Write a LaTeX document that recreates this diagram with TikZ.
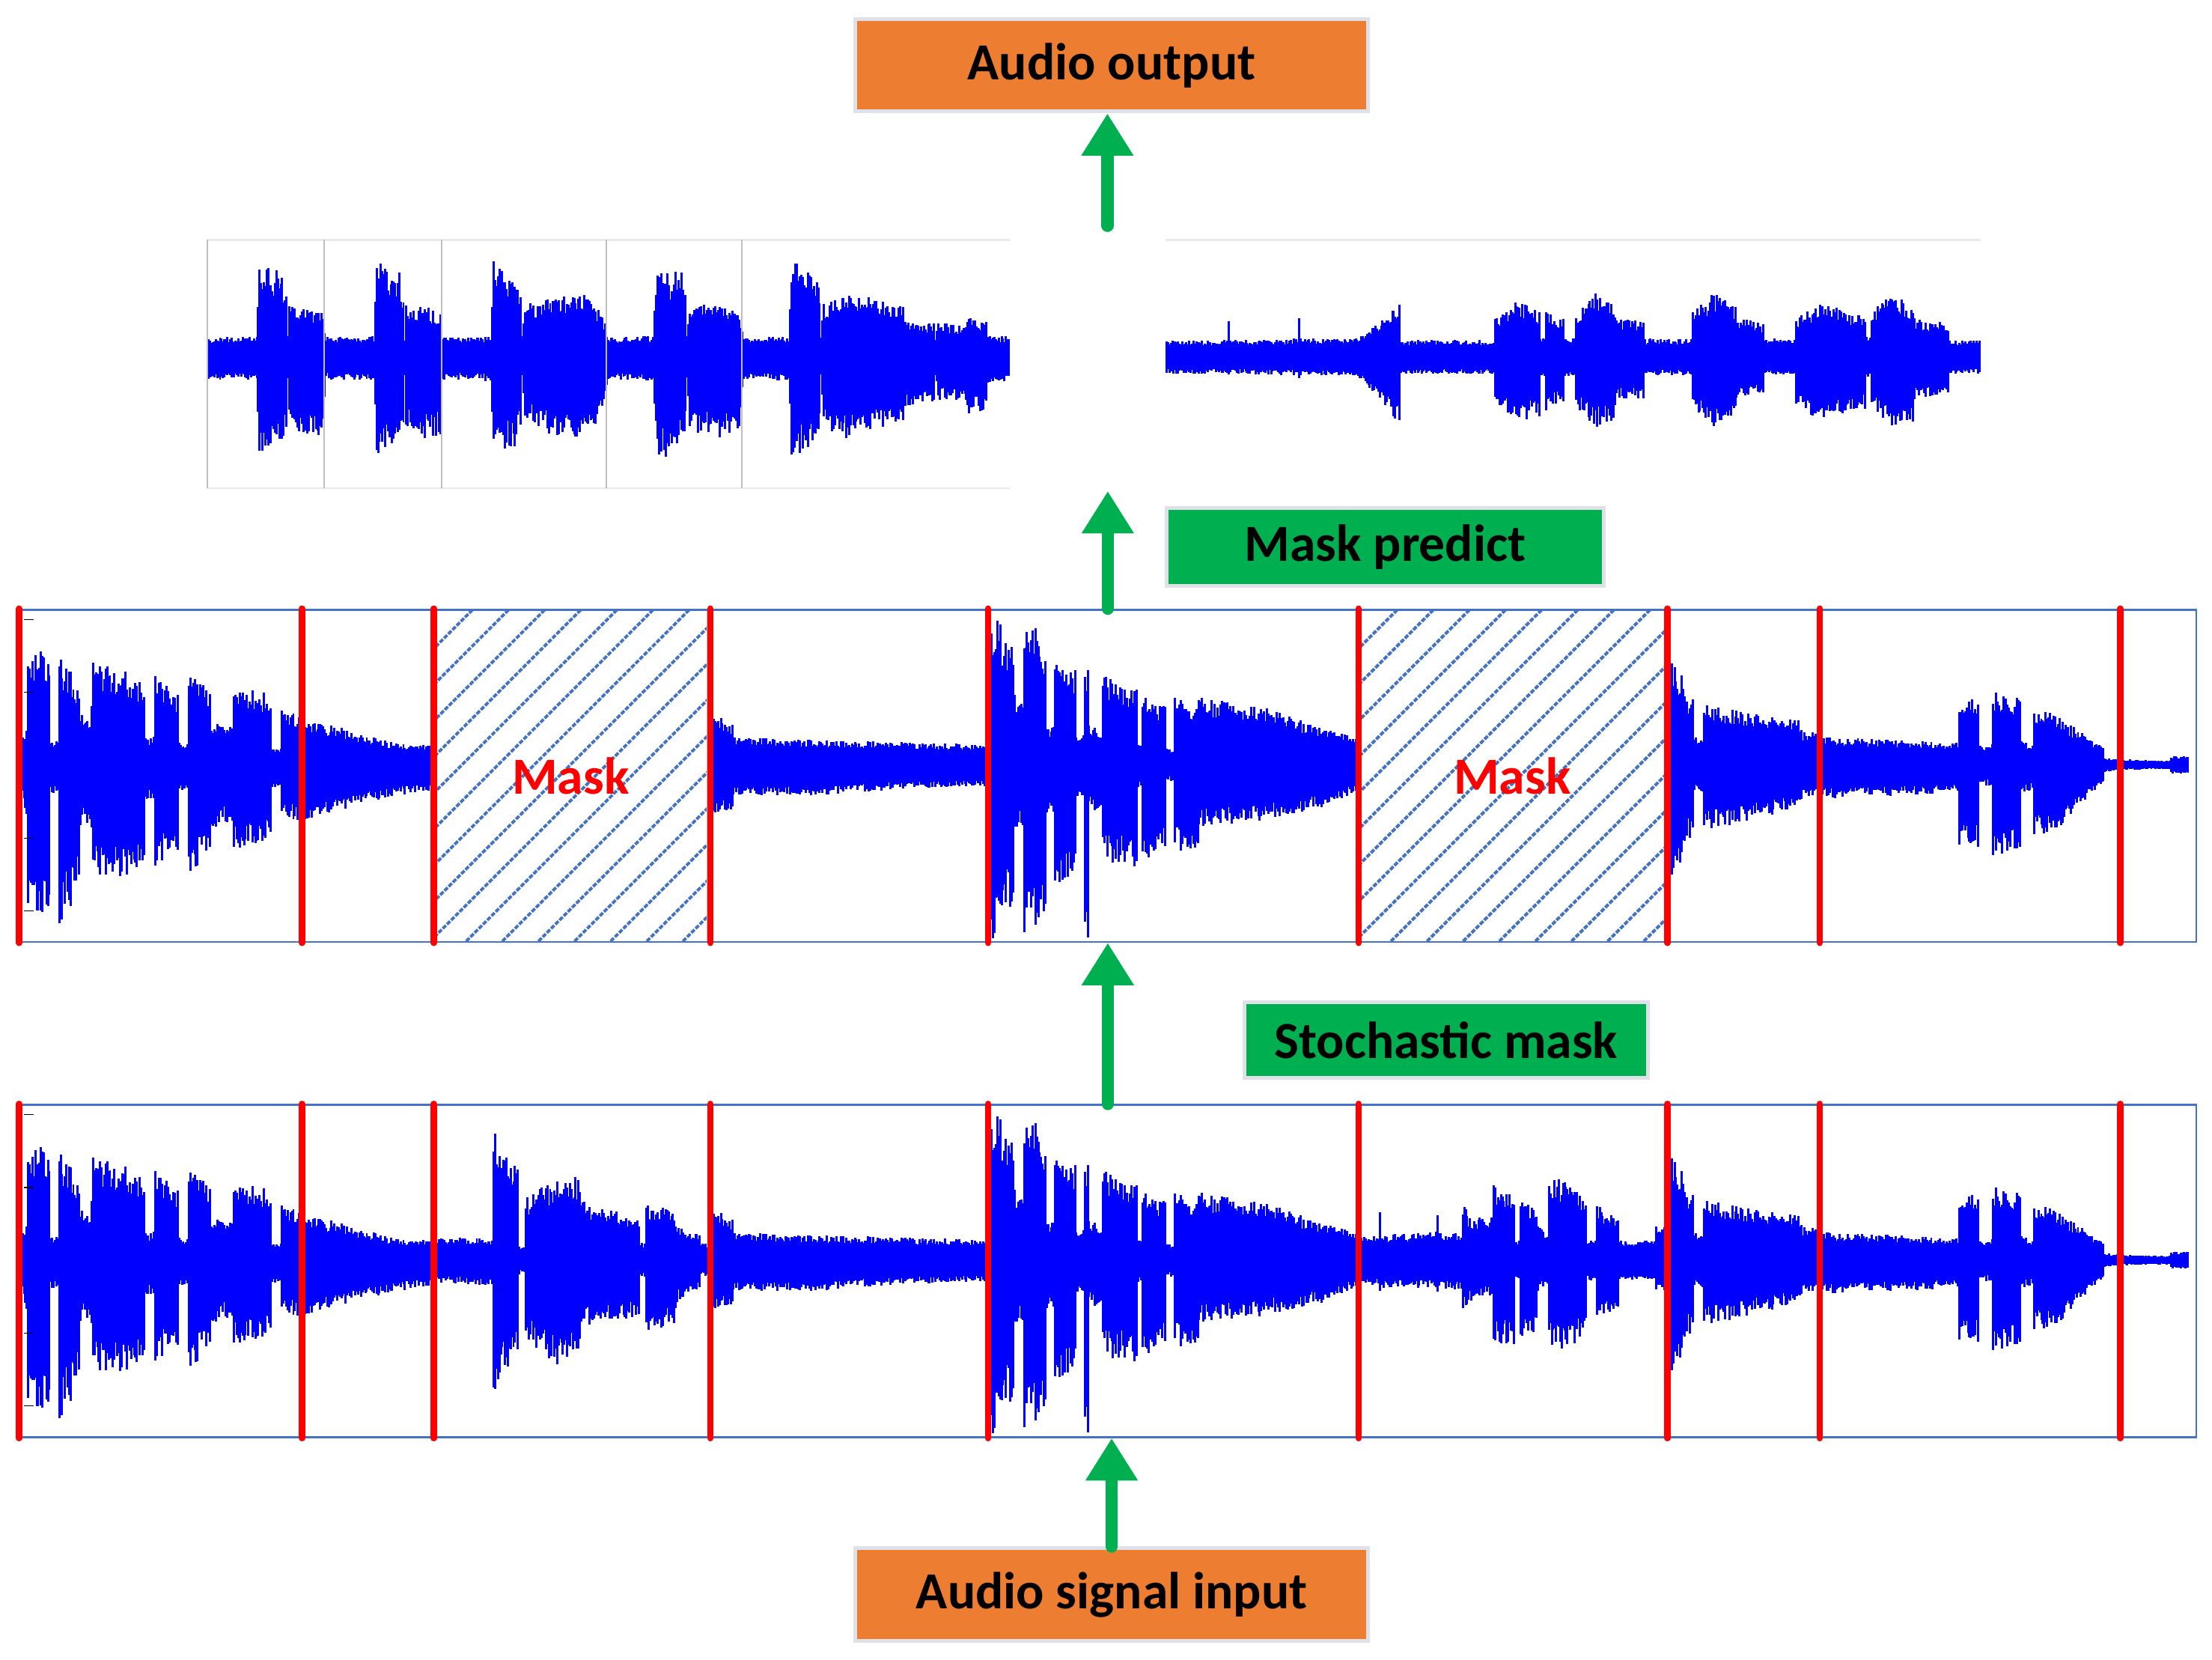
\documentclass[tikz,border=0pt]{standalone}
\usepackage{fontspec}
\setmainfont{Carlito}
\usetikzlibrary{arrows.meta, positioning}
\definecolor{boxorange}{RGB}{237,125,49}
\definecolor{boxgreen}{RGB}{0,176,80}
\definecolor{boxedge}{RGB}{222,226,232}
\definecolor{panelblue}{RGB}{68,114,196}
\definecolor{waveblue}{RGB}{0,0,255}
\definecolor{cutred}{RGB}{255,0,0}
\definecolor{framegray}{RGB}{191,191,191}
\definecolor{framelight}{RGB}{230,233,237}
\tikzset{
  label text/.style={font=\fontsize{21}{25}\selectfont\bfseries}, % Calibri-like bold labels
  stage/.style={label text, draw=boxedge, line width=1.5pt, inner sep=0pt, text=black},
  orange stage/.style={stage, fill=boxorange, minimum width=7.27cm, minimum height=1.31cm},
  green stage/.style={stage, fill=boxgreen},
  panel/.style={draw=panelblue, line width=0.8pt, minimum width=30.87cm, minimum height=4.71cm, inner sep=0pt},
  flow/.style={draw=boxgreen, line width=5pt, line cap=round, -{Triangle[width=0.7cm,length=0.6cm]}}, % thick green arrows
  cut/.style={draw=cutred, line width=2.6pt, line cap=round}, % frame borders
  wavestroke/.style={draw=waveblue, line width=0.9pt},
  hatch/.style={draw=panelblue, line width=1.2pt, dash pattern=on 1.8pt off 0.6pt},
  mask label/.style={label text, text=cutred},
}
% envelope knots: x / amplitude up / amplitude down
\def\speechknots{16/20/25, 19/27/35, 20/85/112, 30/80/110, 35/70/100, 36/17/20, 41/17/20,
  42/78/115, 50/70/100, 56/55/84, 57/40/45, 64/35/40, 66/75/80, 85/70/82, 102/60/70,
  103/20/24, 109/20/24, 110/66/72, 126/50/62, 127/16/18, 133/16/18, 134/66/80, 149/52/62,
  150/30/45, 165/28/40, 166/58/60, 192/50/55, 193/13/18, 199/13/18, 200/42/38, 216/32/40,
  237/28/35, 257/22/28, 281/15/22, 306/15/18, 307/16/16, 349/16/18, 350/92/94, 358/75/80,
  367/70/68, 368/10/10, 372/10/10, 373/45/58, 395/58/75, 410/60/65, 412/42/48, 435/35/45,
  453/30/40, 454/12/12, 457/12/12, 458/42/50, 478/35/48, 480/24/30, 496/18/20, 497/12/12,
  505/12/12, 506/38/35, 519/30/32, 520/20/22, 573/18/22, 640/16/17, 700/15/15, 702/15/15,
  703/106/124, 709/100/120, 710/80/100, 713/88/104, 718/85/100, 719/50/45, 725/50/45,
  726/106/123, 734/100/123, 741/75/110, 742/28/35, 747/28/35, 748/74/85, 762/70/78,
  763/22/25, 768/22/25, 769/68/123, 771/68/123, 772/28/30, 781/25/35, 782/65/70, 806/55/72,
  807/16/16, 809/16/16, 810/50/68, 826/42/62, 827/12/12, 832/12/12, 833/48/62, 849/45/60,
  850/48/45, 870/45/42, 894/42/40, 939/26/30, 961/20/19, 962/18/18, 977/18/18, 978/40/22,
  979/18/20, 1018/20/20, 1019/33/25, 1020/20/20, 1036/20/22, 1037/40/35, 1047/25/25,
  1048/35/26, 1058/30/25, 1059/55/60, 1073/45/60, 1074/14/14, 1077/14/14, 1078/44/55,
  1089/38/50, 1090/25/22, 1097/18/18, 1098/60/60, 1112/55/65, 1124/42/50, 1125/15/15,
  1131/15/15, 1132/39/40, 1147/32/35, 1148/14/14, 1173/14/14, 1174/25/22, 1183/25/25,
  1184/76/80, 1192/67/70, 1193/55/55, 1200/47/52, 1201/20/20, 1207/20/20, 1208/44/46,
  1230/40/42, 1275/32/30, 1276/25/25, 1290/22/24, 1291/20/24, 1388/16/20, 1389/50/60,
  1402/48/58, 1403/15/15, 1412/15/15, 1413/52/65, 1432/50/60, 1433/18/20, 1441/15/18,
  1442/40/50, 1456/36/48, 1491/13/12, 1492/5/5, 1500/4/4, 1538/3/3, 1539/6/6, 1551/6/6}
\def\recleftknots{148/14/16, 182/15/17, 183/40/40, 184/68/70, 190/66/71, 193/55/62,
  196/62/68, 200/60/62, 203/45/50, 204/15/15, 205/37/52, 218/36/58, 229/32/55,
  231/14/16, 265/15/17, 266/40/40, 267/68/70, 273/66/71, 276/55/62, 279/62/68, 283/60/62,
  286/45/50, 287/15/15, 288/37/52, 301/36/58, 312/32/55,
  314/14/16, 348/15/17, 349/40/40, 350/68/70, 356/66/71, 359/55/62, 362/62/68, 366/60/62,
  369/45/50, 370/15/15, 372/38/45, 390/42/55, 411/46/58, 420/40/52, 427/30/40, 429/25/30,
  431/14/16, 463/15/17, 464/40/40, 466/68/70, 472/66/71, 475/55/62, 478/62/68, 483/60/62,
  486/45/50, 487/15/15, 489/37/52, 510/38/58, 524/33/55,
  527/14/16, 559/15/17, 560/40/40, 561/68/70, 567/66/71, 570/55/62, 573/62/68, 578/60/62,
  581/45/50, 582/15/15, 584/38/52, 600/45/58, 620/42/52, 640/36/48, 641/25/35, 662/24/32,
  663/15/15, 665/25/30, 685/22/32, 686/28/40, 699/26/38, 700/15/20, 715/15/18}
\def\recrightknots{827/12/12, 870/12/12, 871/26/14, 872/12/12, 920/13/13, 921/28/16,
  922/13/13, 960/13/13, 974/22/25, 992/38/50, 993/12/12, 1059/12/12, 1060/28/32,
  1076/40/46, 1091/32/42, 1092/14/14, 1095/14/14, 1096/32/38, 1108/28/34, 1109/14/14,
  1116/14/14, 1117/30/36, 1131/46/50, 1145/36/46, 1146/28/30, 1165/26/30, 1166/13/13,
  1199/13/13, 1200/32/36, 1215/46/50, 1230/36/46, 1231/28/30, 1250/24/26, 1251/13/13,
  1272/13/13, 1273/28/34, 1290/38/45, 1307/34/42, 1308/32/38, 1322/30/38, 1323/14/14,
  1326/14/14, 1327/32/36, 1341/46/50, 1356/36/46, 1357/28/30, 1381/24/26, 1382/12/12,
  1403/12/12}
\newcommand{\drawwave}[2]{% #1 centre line, #2 knot list
  \foreach \kx/\ku/\kd [remember=\kx as \px (initially -1),
      remember=\ku as \pu (initially 0),
      remember=\kd as \pd (initially 0)] in #2 {%
    \ifnum\px>-1
      \foreach \i in {\px,...,\kx} {%
        \pgfmathsetmacro{\wfrac}{(\i-\px)/max(\kx-\px,1)}%
        \pgfmathsetmacro{\wup}{(\pu+(\ku-\pu)*\wfrac)*(0.7+0.3*rnd)}%
        \pgfmathsetmacro{\wdn}{(\pd+(\kd-\pd)*\wfrac)*(0.7+0.3*rnd)}%
        \draw[wavestroke] (\i,#1-\wup) -- (\i,#1+\wdn);
      }%
    \fi
  }%
}
\begin{document}
\begin{tikzpicture}[x=0.02cm, y=-0.02cm]
  \useasboundingbox (0,0) rectangle (1568,1176);

  \node[orange stage] (out) at (788,46.3) {Audio output};
  \node[orange stage] (in) at (788,1130) {Audio signal input};
  \node[green stage, minimum width=6.2cm, minimum height=1.1cm] (predict) at (982,387.5) {Mask predict};
  \node[green stage, minimum width=5.72cm, minimum height=1.08cm] (stochastic) at (1025,737) {Stochastic mask};
  \node[panel] (masked) at (785.25,549.75) {};
  \node[panel] (orig) at (785.25,900.75) {};
  \coordinate (rectop) at (785,160);
  \coordinate (recbot) at (785.25,348);

  % reconstructed audio
  \draw[framelight, line width=0.8pt] (147,170) -- (716,170) (147,346) -- (716,346) (826,170) -- (1404,170);
  \pgfmathsetseed{11}
  \drawwave{253}{\recleftknots}
  \drawwave{253}{\recrightknots}
  \foreach \sx in {147,230,313,430,526}
    \draw[framegray, line width=0.6pt] (\sx,170) -- (\sx,346);

  % input and masked signal
  \pgfmathsetseed{7}
  \drawwave{893}{\speechknots}
  \pgfmathsetseed{7}
  \drawwave{542}{\speechknots}

  \foreach \ma/\mb/\mc in {309.5/501.5/404.5, 965/1180.5/1072} {
    \fill[white] (\ma,433) rectangle (\mb,667);
    \begin{scope}
      \clip (\ma,433) rectangle (\mb,667);
      \foreach \hx in {0,...,18}
        \draw[hatch] (\ma-235+\hx*25.6,667) -- ++(235,-235);
    \end{scope}
    \draw[framegray, line width=0.4pt] (\ma,433) -- (\ma,667) (\mb,433) -- (\mb,667);
    \node[mask label] (mask\mc) at (\mc,550) {Mask};
  }

  \foreach \ty in {439,490.5,594,645.5,790,841.5,944.8,996.4}
    \draw[black, line width=0.4pt] (17,\ty) -- (24,\ty);

  \foreach \rx in {13.5,214,307.5,503.5,700.5,963,1182,1290,1503} {
    \draw[cut] (\rx,0 |- masked.north) -- (\rx,0 |- masked.south);
    \draw[cut] (\rx,0 |- orig.north) -- (\rx,0 |- orig.south);
  }

  \draw[flow] (in.north) -- (in.north |- orig.south);
  \draw[flow] (orig.north) -- (masked.south);
  \draw[flow] (masked.north) -- (recbot);
  \draw[flow] (rectop) -- (rectop |- out.south);
\end{tikzpicture}
\end{document}
